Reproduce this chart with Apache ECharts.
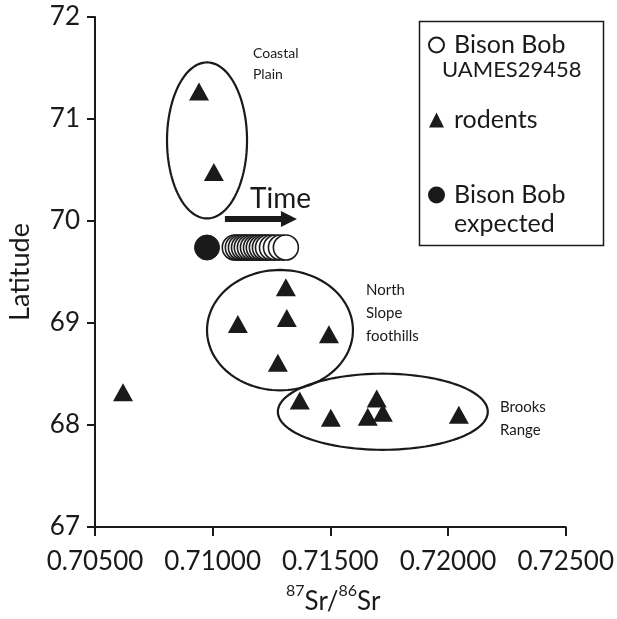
<!DOCTYPE html>
<html>
<head>
<meta charset="utf-8">
<script src="https://cdn.jsdelivr.net/npm/echarts@6/dist/echarts.min.js"></script>
<style>
html,body{margin:0;padding:0;background:#fff;}
#chart{width:617px;height:619px;}
</style>
</head>
<body>
<div id="chart"></div>
<script>
// ---- data ----
const xTickValues = [0.705, 0.710, 0.715, 0.720, 0.725];
const yTickValues = [67, 68, 69, 70, 71, 72];

const rodentsSr  = [0.70942, 0.71005, 0.71311, 0.71107, 0.71315, 0.71494, 0.71277, 0.70619, 0.71370, 0.71502, 0.71697, 0.71659, 0.71723, 0.72046];
const rodentsLat = [71.27,   70.48,   69.35,   68.99,   69.05,   68.89,   68.61,   68.32,   68.24,   68.07,   68.26,   68.08,   68.12,   68.10];

const bisonBobSr  = [0.71094, 0.71107, 0.71120, 0.71133, 0.71145, 0.71158, 0.71171, 0.71184, 0.71196, 0.71209, 0.71222, 0.71235, 0.71252, 0.71269, 0.71290, 0.71311];
const bisonBobLat = [69.74,   69.74,   69.74,   69.74,   69.74,   69.74,   69.74,   69.74,   69.74,   69.74,   69.74,   69.74,   69.74,   69.74,   69.74,   69.74];

const expectedSr  = [0.70976];
const expectedLat = [69.74];

// region groupings (centre Sr, centre Lat, half-width Sr, half-height Lat)
const regionNames = ['Coastal Plain', 'North Slope foothills', 'Brooks Range'];
const regionCx = [0.70976, 0.71286, 0.71723];
const regionCy = [70.79, 68.93, 68.13];
const regionRx = [0.00170, 0.00310, 0.00446];
const regionRy = [0.765, 0.59, 0.373];

// time arrow (from, to) in data units
const timeArrowSr = [0.71052, 0.71358];
const timeArrowLat = [70.02, 70.02];

const FONT = 'Lato, "Open Sans", "Liberation Sans", sans-serif';
const INK = '#1a1a1a';

const zip = (a, b) => a.map((v, i) => [v, b[i]]);

const chart = echarts.init(document.getElementById('chart'), null, {renderer: 'canvas'});

const option = {
  animation: false,
  backgroundColor: '#fff',
  grid: {left: 95, right: 51, top: 17, bottom: 92, containLabel: false},
  xAxis: {
    type: 'value', min: 0.705, max: 0.725, interval: 0.005,
    axisLine: {show: true, lineStyle: {color: INK, width: 2}},
    axisTick: {show: true, inside: false, length: 9, lineStyle: {color: INK, width: 2}},
    splitLine: {show: false},
    axisLabel: {color: INK, fontFamily: FONT, fontSize: 26, margin: 22,
      formatter: v => v.toFixed(5)}
  },
  yAxis: {
    type: 'value', min: 67, max: 72, interval: 1,
    axisLine: {show: true, lineStyle: {color: INK, width: 2}},
    axisTick: {show: true, inside: false, length: 8, lineStyle: {color: INK, width: 2}},
    splitLine: {show: false},
    axisLabel: {color: INK, fontFamily: FONT, fontSize: 26, margin: 15}
  },
  legend: {
    orient: 'vertical', left: 428, top: 31, padding: 0,
    itemWidth: 15, itemHeight: 15, itemGap: 47,
    textStyle: {color: INK, fontFamily: FONT, fontSize: 25, lineHeight: 28, padding: [0, 0, 0, 5]},
    data: [
      {name: 'Bison Bob UAMES29458', icon: 'circle'},
      {name: 'rodents', icon: 'triangle'},
      {name: 'Bison Bob expected', icon: 'circle'}
    ],
    formatter: n => n.startsWith('Bison Bob') ? 'Bison Bob' : n
  },
  graphic: [
    {type: 'rect', left: 417, top: 19, shape: {width: 184, height: 224},
      style: {fill: 'none', stroke: INK, lineWidth: 1.5}, z: 1},
    {type: 'text', left: 442, top: 59, style: {text: 'UAMES29458', font: '22px ' + FONT, fill: INK}},
    {type: 'text', left: 454, top: 211, style: {text: 'expected', font: '25px ' + FONT, fill: INK}},
    {type: 'text', left: 250, top: 185, style: {text: 'Time', font: '28px ' + FONT, fill: INK}},
    {type: 'text', left: 253, top: 43, style: {text: 'Coastal\nPlain', font: '14px ' + FONT, lineHeight: 21, fill: INK}},
    {type: 'text', left: 366, top: 279, style: {text: 'North\nSlope\nfoothills', font: '15px ' + FONT, lineHeight: 23, fill: INK}},
    {type: 'text', left: 500, top: 396, style: {text: 'Brooks\nRange', font: '15px ' + FONT, lineHeight: 23, fill: INK}},
    {type: 'text', x: 7, y: 272, rotation: Math.PI / 2,
      style: {text: 'Latitude', font: '27px ' + FONT, fill: INK, align: 'center', verticalAlign: 'top'}},
    {type: 'text', left: 286, top: 583,
      style: {
        text: '{sup|87}{b|Sr/}{sup|86}{b|Sr}',
        rich: {
          b: {fontFamily: FONT, fontSize: 26, fill: INK, color: INK, verticalAlign: 'bottom', lineHeight: 32},
          sup: {fontFamily: FONT, fontSize: 16, fill: INK, color: INK, verticalAlign: 'top', lineHeight: 32, padding: [0, 0, 10, 0]}
        }
      }}
  ],
  series: [
    {
      name: 'regions', type: 'custom', z: 1, silent: true,
      data: regionNames.map((n, i) => [regionCx[i], regionCy[i], regionRx[i], regionRy[i]]),
      renderItem: (params, api) => {
        const c = api.coord([api.value(0), api.value(1)]);
        const s = api.size([api.value(2), api.value(3)]);
        const pts = [];
        for (let k = 0; k < 120; k++) {
          const t = k / 120 * Math.PI * 2;
          pts.push([c[0] + s[0] * Math.cos(t), c[1] + s[1] * Math.sin(t)]);
        }
        return {type: 'polygon', shape: {points: pts},
          style: {fill: 'none', stroke: INK, lineWidth: 2.2}};
      }
    },
    {
      name: 'time', type: 'custom', z: 1, silent: true,
      data: [[timeArrowSr[0], timeArrowLat[0], timeArrowSr[1], timeArrowLat[1]]],
      renderItem: (params, api) => {
        const a = api.coord([api.value(0), api.value(1)]);
        const b = api.coord([api.value(2), api.value(3)]);
        const head = 15;
        return {type: 'group', children: [
          {type: 'rect', shape: {x: a[0], y: a[1] - 3, width: b[0] - a[0] - head, height: 6}, style: {fill: INK}},
          {type: 'polygon', shape: {points: [[b[0] - head - 1, a[1] - 8], [b[0], a[1]], [b[0] - head - 1, a[1] + 8]]}, style: {fill: INK}}
        ]};
      }
    },
    {
      name: 'Bison Bob expected', type: 'scatter', z: 3,
      symbol: 'circle', symbolSize: 25,
      itemStyle: {color: INK, borderColor: INK, borderWidth: 1, opacity: 1},
      data: zip(expectedSr, expectedLat)
    },
    {
      name: 'Bison Bob UAMES29458', type: 'scatter', z: 3,
      symbol: 'circle', symbolSize: 25,
      itemStyle: {color: '#fff', borderColor: INK, borderWidth: 1.6, opacity: 1},
      data: zip(bisonBobSr, bisonBobLat)
    },
    {
      name: 'rodents', type: 'scatter', z: 4,
      symbol: 'triangle', symbolSize: [20, 18],
      itemStyle: {color: INK, opacity: 1},
      data: zip(rodentsSr, rodentsLat)
    }
  ]
};
chart.setOption(option);
</script>
</body>
</html>
